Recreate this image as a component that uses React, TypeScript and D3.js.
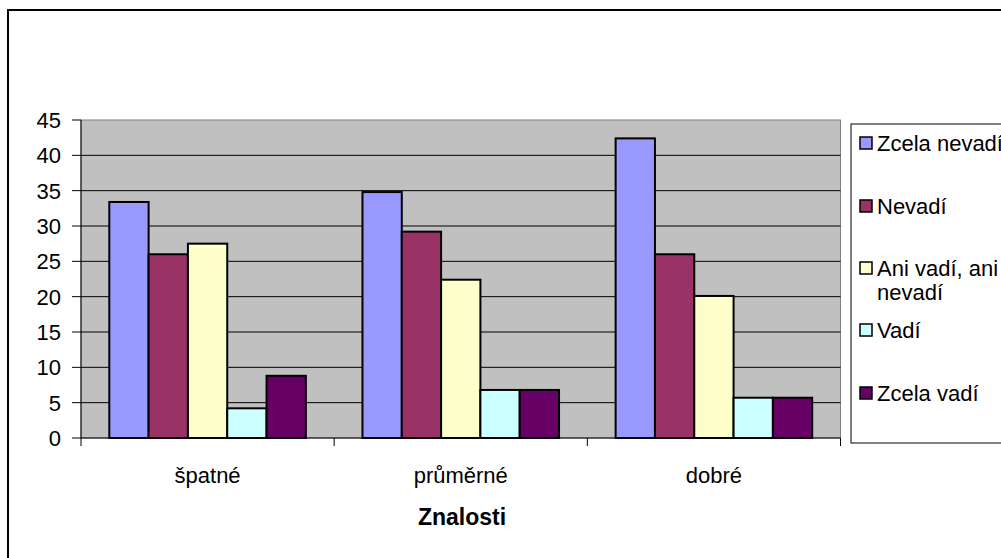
import React from "react";
import * as d3 from "d3";

const categories = ["špatné", "průměrné", "dobré"];
const seriesNames = ["Zcela nevadí", "Nevadí", "Ani vadí, ani nevadí", "Vadí", "Zcela vadí"];
const legendLines = [["Zcela nevadí"], ["Nevadí"], ["Ani vadí, ani", "nevadí"], ["Vadí"], ["Zcela vadí"]];
const seriesColors = ["#9999FF", "#993366", "#FFFFCC", "#CCFFFF", "#660066"];
const zcelaNevadi = [33.4, 34.8, 42.4];
const nevadi = [26.0, 29.2, 26.0];
const aniVadiAniNevadi = [27.5, 22.4, 20.1];
const vadi = [4.2, 6.8, 5.7];
const zcelaVadi = [8.8, 6.8, 5.7];
const seriesValues = [zcelaNevadi, nevadi, aniVadiAniNevadi, vadi, zcelaVadi];
const yTicks = [0, 5, 10, 15, 20, 25, 30, 35, 40, 45];
const xTitle = "Znalosti";

const W = 1001;
const H = 558;
const font = "'Liberation Sans', Arial, sans-serif";

export default function App() {
  const plotL = 81, plotR = 840.5, plotT = 120, plotB = 438;
  const y = d3.scaleLinear().domain([0, 45]).range([plotB, plotT]);
  const x0 = d3.scaleBand<string>().domain(categories).range([plotL, plotR]).padding(0);
  const x1 = d3
    .scaleBand<string>()
    .domain(seriesNames)
    .range([0, x0.bandwidth()])
    .paddingInner(0)
    .paddingOuter(0.72);
  const boundaries = [plotL, ...categories.map((c) => (x0(c) as number) + x0.bandwidth())];
  const legendY = [143, 206, 268, 330, 393];

  return (
    <svg
      width={W}
      height={H}
      style={{ position: "absolute", left: 0, top: 0, background: "#fff" }}
      fontFamily={font}
    >
      <rect x={0} y={0} width={W} height={H} fill="#fff" />
      <rect x={8} y={10} width={1200} height={700} fill="#fff" stroke="#000" strokeWidth={2} />
      {/* plot area */}
      <rect x={plotL} y={plotT} width={plotR - plotL} height={plotB - plotT} fill="#C0C0C0" stroke="#808080" strokeWidth={1} />
      {yTicks.map((t) => (
        <g key={t}>
          {t > 0 && t < 45 && (
            <line x1={plotL} x2={plotR} y1={y(t)} y2={y(t)} stroke="#000" strokeWidth={1} />
          )}
          <line x1={72} x2={plotL} y1={y(t)} y2={y(t)} stroke="#000" strokeWidth={1} />
          <text x={61} y={y(t)} dy="0.36em" textAnchor="end" fontSize={22} fill="#000">
            {t}
          </text>
        </g>
      ))}
      {/* bars */}
      {categories.map((c, ci) => (
        <g key={c} transform={`translate(${x0(c)},0)`}>
          {seriesNames.map((s, si) => {
            const v = seriesValues[si][ci];
            return (
              <rect
                key={s}
                x={x1(s)}
                y={y(v)}
                width={x1.bandwidth()}
                height={plotB - y(v)}
                fill={seriesColors[si]}
                stroke="#000"
                strokeWidth={2}
              />
            );
          })}
        </g>
      ))}
      {/* axes */}
      <line x1={plotL} x2={plotL} y1={plotT} y2={plotB} stroke="#000" strokeWidth={1} />
      <line x1={plotL} x2={plotR} y1={plotB} y2={plotB} stroke="#000" strokeWidth={1} />
      {boundaries.map((b, i) => (
        <line key={i} x1={b} x2={b} y1={plotB} y2={plotB + 8} stroke="#000" strokeWidth={1} />
      ))}
      {categories.map((c) => (
        <text
          key={c}
          x={(x0(c) as number) + x0.bandwidth() / 2}
          y={483}
          textAnchor="middle"
          fontSize={22}
          fill="#000"
        >
          {c}
        </text>
      ))}
      <text x={462} y={525} textAnchor="middle" fontSize={23} fontWeight="bold" fill="#000">
        {xTitle}
      </text>
      {/* legend */}
      <rect x={851} y={124} width={300} height={319} fill="#fff" stroke="#000" strokeWidth={1} />
      {seriesNames.map((s, i) => (
        <g key={s}>
          <rect x={860} y={legendY[i] - 6} width={12} height={12} fill={seriesColors[i]} stroke="#000" strokeWidth={1.5} />
          {legendLines[i].map((ln, li) => (
            <text key={li} x={877} y={legendY[i] + li * 24} dy="0.36em" fontSize={22} fill="#000">
              {ln}
            </text>
          ))}
        </g>
      ))}
    </svg>
  );
}
